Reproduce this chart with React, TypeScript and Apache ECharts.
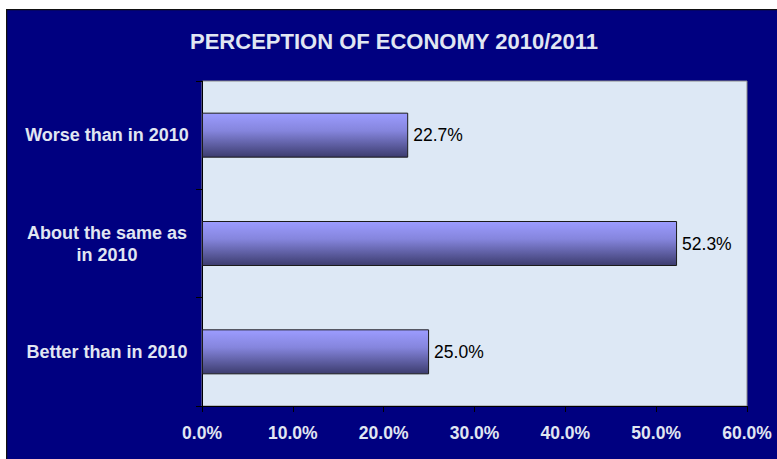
import React, { useEffect, useRef } from "react";
import * as echarts from "echarts";

const categories = ["Better than in 2010", "About the same as\nin 2010", "Worse than in 2010"];
const values = [25.0, 52.3, 22.7];
const xTicks = { min: 0, max: 60, interval: 10 };
const titleText = "PERCEPTION OF ECONOMY 2010/2011";

const FONT = "'Liberation Sans', Arial, sans-serif";
const LIGHT = "#e0e6f2";

export default function App() {
  const ref = useRef<HTMLDivElement>(null);
  useEffect(() => {
    document.body.style.overflow = "hidden";
    const chart = echarts.init(ref.current!, undefined, { renderer: "svg" });
    chart.setOption({
      animation: false,
      backgroundColor: "#000080",
      textStyle: { fontFamily: FONT },
      title: {
        text: titleText,
        left: 383,
        top: 16,
        textAlign: "center",
        textStyle: { color: LIGHT, fontSize: 22, fontWeight: "bold", fontFamily: FONT },
      },
      graphic: [
        {
          type: "rect",
          shape: { x: 0.5, y: 0.5, width: 800, height: 500 },
          style: { fill: "none", stroke: "#111", lineWidth: 1.5 },
          silent: true,
        },
      ],
      grid: {
        left: 196,
        top: 72,
        right: 39,
        bottom: 63,
        show: true,
        backgroundColor: "#dde8f5",
        borderColor: "#8a8a8a",
        borderWidth: 1,
      },
      xAxis: {
        type: "value",
        min: xTicks.min,
        max: xTicks.max,
        interval: xTicks.interval,
        splitLine: { show: false },
        axisLine: { show: true, lineStyle: { color: "#000", width: 1 } },
        axisTick: { show: true, length: 6, lineStyle: { color: "#000" } },
        axisLabel: {
          margin: 18,
          color: LIGHT,
          fontSize: 17.5,
          fontWeight: "bold",
          fontFamily: FONT,
          formatter: (v: number) => v.toFixed(1) + "%",
        },
      },
      yAxis: {
        type: "category",
        data: categories,
        axisLine: { show: true, lineStyle: { color: "#000", width: 1 } },
        axisTick: { show: true, length: 6, lineStyle: { color: "#000" } },
        axisLabel: {
          margin: 95,
          align: "center",
          color: LIGHT,
          fontSize: 18,
          lineHeight: 22,
          fontWeight: "bold",
          fontFamily: FONT,
        },
      },
      series: [
        {
          type: "bar",
          data: values,
          barWidth: 45,
          itemStyle: {
            borderColor: "#1a1a1a",
            borderWidth: 1,
            color: new echarts.graphic.LinearGradient(0, 0, 0, 1, [
              { offset: 0, color: "#9c9cff" },
              { offset: 0.4, color: "#8585dd" },
              { offset: 1, color: "#3c3c6e" },
            ]),
          },
          label: {
            show: true,
            position: "right",
            distance: 5,
            color: "#000",
            fontSize: 17.5,
            fontFamily: FONT,
            formatter: (p: any) => Number(p.value).toFixed(1) + "%",
          },
        },
      ],
    });
    return () => chart.dispose();
  }, []);
  return (
    <div
      ref={ref}
      style={{ position: "fixed", left: 6, top: 9, width: 780, height: 460 }}
    />
  );
}
